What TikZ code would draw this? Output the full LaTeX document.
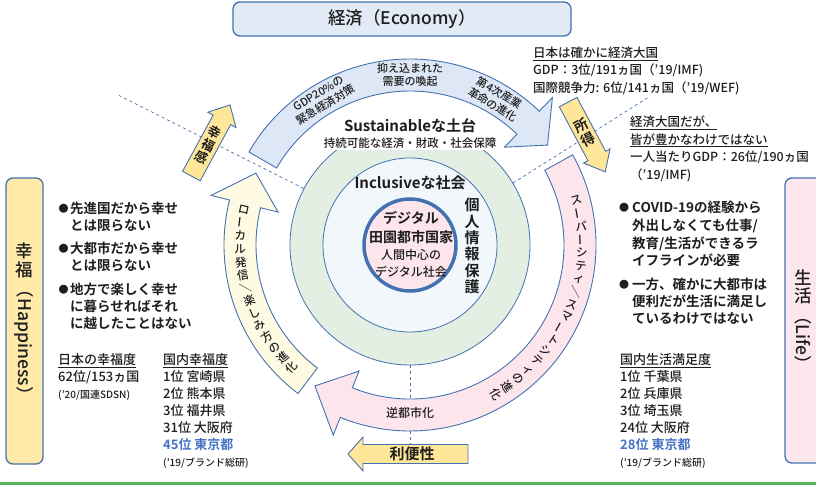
\documentclass[tikz,border=0pt]{standalone}
\usepackage{fontspec}
\usepackage{graphicx}
\setmainfont{Noto Sans CJK JP}[UprightFont=* Medium, BoldFont=* Bold]
\definecolor{bord}{RGB}{68,114,176}
\definecolor{ecoFill}{RGB}{222,231,245}
\definecolor{topFill}{RGB}{226,234,246}
\definecolor{ringFill}{RGB}{226,239,226}
\definecolor{coreFill}{RGB}{241,247,251}
\definecolor{pinkFill}{RGB}{252,230,236}
\definecolor{creamFill}{RGB}{255,251,226}
\definecolor{goldFill}{RGB}{255,230,153}
\definecolor{hapFill}{RGB}{255,234,170}
\definecolor{lifeFill}{RGB}{252,231,238}
\definecolor{lineGreen}{RGB}{84,178,96}
\definecolor{blueTxt}{RGB}{68,114,196}
\definecolor{ink}{RGB}{30,30,30}
\newcommand{\fs}[2]{\fontsize{#1}{#2}\selectfont}
\def\ROut{186}\def\RIn{154}\def\RBo{205}\def\RBi{136}\def\RTip{170}
% #1 style, #2 length, #3 body width, #4 head width, #5 head length (points up)
\newcommand{\uparrowshape}[5]{%
  \draw[#1] ({-#3/2},{-#2/2}) -- ({#3/2},{-#2/2}) -- ({#3/2},{#2/2-#5}) -- ({#4/2},{#2/2-#5}) -- (0,{#2/2}) -- ({-#4/2},{#2/2-#5}) -- ({-#3/2},{#2/2-#5}) -- cycle;}
% #1 tail angle, #2 head-base angle, #3 tip angle, #4 style
\newcommand{\bigarrow}[4]{%
  \draw[#4] (#1:\ROut) arc[start angle=#1, end angle=#2, radius=\ROut] -- (#2:\RBo) -- (#3:\RTip) -- (#2:\RBi) -- (#2:\RIn) arc[start angle=#2, end angle=#1, radius=\RIn] -- cycle;}
\tikzset{
  txt/.style={anchor=north west, align=left},
  framebox/.style={draw=bord, line width=1.3pt, rounded corners=7pt},
  dashline/.style={draw=bord, dashed, line width=0.7pt},
  bigarr/.style={draw=bord, line width=0.9pt, line join=miter},
  smallarrow/.style={draw=bord, fill=goldFill, line width=0.9pt, line join=miter},
  arrowtxt/.style={font=\fs{11}{13.5}, align=center},
  arctxt/.style={font=\fs{11.5}{13}},
}
\begin{document}
\begin{tikzpicture}[x=1pt,y=1pt, every node/.style={inner sep=0pt, text=ink}]
\useasboundingbox (0,0) rectangle (816,-486);
\clip (0,0) rectangle (816,-486);

% ---------- frames ----------
\node[framebox, fill=topFill, minimum width=338pt, minimum height=34pt] (eco) at (402,-19) {\fs{17.5}{20}経済（Economy）};
\node[framebox, fill=hapFill, minimum width=37pt, minimum height=286pt] (hapbox) at (24.5,-321) {};
\node (hap) at (24.5,-323) {\fs{17.5}{20}\shortstack{幸\\福\\\rotatebox{-90}{（Happiness）}}};
\node[framebox, fill=lifeFill, minimum width=50pt, minimum height=285pt] (lifebox) at (810,-320.5) {};
\node (life) at (803,-321) {\fs{17.5}{20}\shortstack{生\\活\\\rotatebox{-90}{（Life）}}};

% ---------- central circle diagram ----------
\begin{scope}[shift={(410,-245)}]
\node[circle, draw=bord, line width=0.8pt, fill=ringFill, minimum size=240pt] (ring) at (0,0) {};
\node[circle, draw=bord, line width=0.8pt, fill=coreFill, minimum size=174pt] (incl) at (0,0) {};
\node[circle, draw=bord, line width=3.5pt, fill=pinkFill, minimum size=92pt] (core) at (0,0) {};

\fill[white] (-86,95) rectangle (86,127);
\node[font=\bfseries\fs{15}{18}] (sust) at (0,119) {Sustainableな土台};
\node[font=\fs{11.5}{14}] (sustsub) at (0,102) {持続可能な経済・財政・社会保障};
\node[font=\bfseries\fs{15}{18}] (inc) at (0,62) {Inclusiveな社会};
\node[font=\bfseries\fs{14}{19}, align=center] (dg) at (1,17.5) {デジタル\\田園都市国家};
\node[font=\fs{12}{17}, align=center] (hm) at (1,-18.5) {人間中心の\\デジタル社会};
\node[font=\bfseries\fs{15}{16.4}, align=center] (priv) at (62,-1) {個\\人\\情\\報\\保\\護};

% dashed radial lines
\coordinate (dL) at (152.8:328);
\coordinate (dR) at (31.8:282);
\coordinate (dB) at (0,-199.5);
\draw[dashline] (ring.152.8) -- (dL);
\draw[dashline] (ring.31.8) -- (dR);
\draw[dashline] (ring.south) -- (dB);

% big curved arrows
\bigarrow{150}{46}{36}{bigarr, fill=ecoFill}
\bigarrow{29}{-112}{-124}{bigarr, fill=pinkFill}
\bigarrow{233}{166}{155}{bigarr, fill=creamFill}

% economy arrow labels
\node[arrowtxt, rotate=31] (e1) at (121:170) {GDP20\%の\\緊急経済対策};
\node[arrowtxt] (e2) at (90:170) {抑え込まれた\\需要の喚起};
\node[arrowtxt, rotate=-30.5] (e3) at (59.5:170) {第4次産業\\革命の進化};
\node[font=\fs{12}{14}] (gyaku) at (0,-168) {逆都市化};

% local arrow text (vertical, along arc)
\foreach \ch/\ex [count=\i from 0] in {ロ/0,ー/90,カ/0,ル/0,発/0,信/0,／/90,楽/0,し/0,み/0,方/0,の/0,進/0,化/0}{
  \pgfmathsetmacro{\ang}{168+\i*4.46}
  \node[arctxt, rotate=\ang-180+\ex] (yl\i) at (\ang:170) {\ch};
}
% smart city arrow text
\foreach \ch/\ex [count=\i from 0] in {ス/0,ー/90,パ/0,ー/90,シ/0,テ/0,ィ/0,／/90,ス/0,マ/0,ー/90,ト/0,シ/0,テ/0,ィ/0,の/0,進/0,化/0}{
  \pgfmathsetmacro{\ang}{15-\i*4.41}
  \node[arctxt, rotate=\ang+\ex] (pl\i) at (\ang:172) {\ch};
}

% small arrows
\begin{scope}[shift={(-199.3,104.5)}, rotate=-28.5]
  \uparrowshape{smallarrow}{81}{20}{32}{17}
  \node[font=\bfseries\fs{13}{14}, align=center, rotate=-28.5] (kofuku) at (0,-5) {幸\\福\\感};
\end{scope}
\begin{scope}[shift={(176.7,108)}, rotate=208]
  \uparrowshape{smallarrow}{79}{20}{30}{18}
  \node[font=\bfseries\fs{14}{15}, align=center, rotate=28] (shotoku) at (0,-5) {所\\得};
\end{scope}
\begin{scope}[shift={(-2,-209)}, rotate=90]
  \uparrowshape{smallarrow}{120}{19}{34}{15}
\end{scope}
\node[font=\bfseries\fs{15}{16}] (ribensei) at (2,-209) {利便性};
\end{scope}

% ---------- left texts ----------
\node[font=\fs{10}{12}] (lbb1) at (63.5,-209) {●};
\node[txt, font=\bfseries\fs{13.5}{17}] (lb1) at (70,-202) {先進国だから幸せ\\とは限らない};
\node[font=\fs{10}{12}] (lbb2) at (63.5,-249) {●};
\node[txt, font=\bfseries\fs{13.5}{17}] (lb2) at (70,-242) {大都市だから幸せ\\とは限らない};
\node[font=\fs{10}{12}] (lbb3) at (63.5,-290) {●};
\node[txt, font=\bfseries\fs{13.5}{17}] (lb3) at (70,-283) {地方で楽しく幸せ\\に暮らせればそれ\\に越したことはない};

\node[txt, font=\fs{13}{17}] (ls1) at (58,-353.5) {\underline{日本の幸福度}\\62位/153ヵ国\\{\fs{10}{12}('20/国連SDSN)}};
\node[txt, font=\fs{13}{17}] (ls2) at (163,-353.5) {\underline{国内幸福度}\\1位 宮崎県\\2位 熊本県\\3位 福井県\\31位 大阪府\\{\color{blueTxt}\bfseries 45位 東京都}\\{\fs{10}{12}('19/ブランド総研)}};

% ---------- top right texts ----------
\node[txt, font=\fs{12.5}{17.5}] (tr1) at (533,-46.5) {\underline{日本は確かに経済大国}\\GDP：3位/191ヵ国（'19/IMF)\\国際競争力: 6位/141ヵ国（'19/WEF)};
\node[txt, font=\fs{12.5}{17.7}] (tr2) at (630,-115.5) {\underline{経済大国だが、}\\\underline{皆が豊かなわけではない}\\一人当たりGDP：26位/190ヵ国\\（'19/IMF)};

% ---------- right texts ----------
\node[font=\fs{10}{12}] (rbb1) at (624,-208) {●};
\node[txt, font=\bfseries\fs{13.5}{17.7}] (rb1) at (632,-201) {COVID-19の経験から\\外出しなくても仕事/\\教育/生活ができるラ\\イフラインが必要};
\node[font=\fs{10}{12}] (rbb2) at (624,-285) {●};
\node[txt, font=\bfseries\fs{13.5}{17}] (rb2) at (632,-278) {一方、確かに大都市は\\便利だが生活に満足し\\ているわけではない};
\node[txt, font=\fs{13}{17}] (rs1) at (620,-353.5) {\underline{国内生活満足度}\\1位 千葉県\\2位 兵庫県\\3位 埼玉県\\24位 大阪府\\{\color{blueTxt}\bfseries 28位 東京都}\\{\fs{10}{12}('19/ブランド総研)}};

% ---------- bottom green rule ----------
\coordinate (gl1) at (0,-483.5);
\coordinate (gl2) at (816,-483.5);
\draw[lineGreen, line width=3pt] (gl1) -- (gl2);
\end{tikzpicture}
\end{document}
